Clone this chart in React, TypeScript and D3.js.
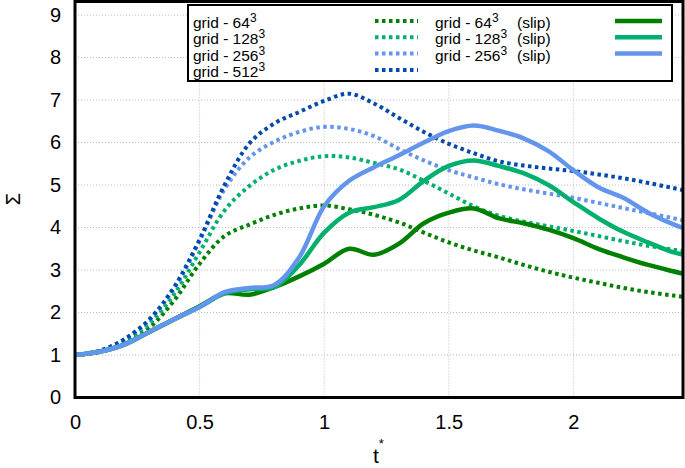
import React, { useRef, useEffect } from "react";
import { select, scaleLinear, line, curveCatmullRom, axisBottom, axisLeft } from "d3";

// sample times (t*)
const times = [0, 0.1, 0.2, 0.3, 0.4, 0.5, 0.6, 0.7, 0.8, 0.9, 1.0, 1.1, 1.2, 1.3, 1.4, 1.5, 1.6, 1.7, 1.8, 1.9, 2.0, 2.1, 2.2, 2.3, 2.4, 2.45];

// Sigma, no-slip runs (dotted)
const grid64 = [1.0, 1.07, 1.28, 1.65, 2.3, 3.15, 3.8, 4.07, 4.3, 4.45, 4.52, 4.43, 4.3, 4.12, 3.88, 3.65, 3.46, 3.3, 3.12, 2.96, 2.82, 2.7, 2.58, 2.48, 2.4, 2.36];
const grid128 = [1.0, 1.08, 1.32, 1.75, 2.45, 3.42, 4.4, 4.98, 5.36, 5.57, 5.68, 5.65, 5.52, 5.37, 5.1, 4.8, 4.5, 4.28, 4.14, 4.03, 3.92, 3.8, 3.68, 3.57, 3.48, 3.44];
const grid256 = [1.0, 1.1, 1.37, 1.83, 2.58, 3.68, 4.9, 5.65, 6.02, 6.25, 6.37, 6.32, 6.15, 5.85, 5.58, 5.35, 5.18, 5.02, 4.9, 4.8, 4.7, 4.58, 4.46, 4.34, 4.22, 4.16];
const grid512 = [1.0, 1.1, 1.38, 1.85, 2.62, 3.72, 5.0, 5.98, 6.45, 6.72, 6.98, 7.15, 6.92, 6.58, 6.25, 5.97, 5.75, 5.56, 5.46, 5.39, 5.33, 5.25, 5.16, 5.05, 4.93, 4.87];

// Sigma, slip runs (solid)
const slip64 = [1.0, 1.08, 1.25, 1.55, 1.85, 2.15, 2.45, 2.42, 2.6, 2.85, 3.15, 3.5, 3.36, 3.62, 4.1, 4.35, 4.45, 4.22, 4.1, 3.95, 3.75, 3.5, 3.3, 3.12, 2.97, 2.9];
const slip128 = [1.0, 1.08, 1.25, 1.55, 1.85, 2.13, 2.45, 2.55, 2.6, 3.12, 3.88, 4.35, 4.48, 4.65, 5.1, 5.45, 5.58, 5.45, 5.28, 5.0, 4.6, 4.22, 3.9, 3.65, 3.42, 3.35];
const slip256 = [1.0, 1.08, 1.25, 1.55, 1.85, 2.13, 2.48, 2.58, 2.65, 3.3, 4.5, 5.1, 5.42, 5.7, 6.0, 6.27, 6.4, 6.28, 6.1, 5.8, 5.35, 4.95, 4.7, 4.35, 4.08, 3.97];

const xTicks = [0, 0.5, 1, 1.5, 2];
const yTicks = [0, 1, 2, 3, 4, 5, 6, 7, 8, 9];

const gridLabels = ["64", "128", "256", "512"];
const slipLabels = ["64", "128", "256"];

const darkGreen = "#008000";
const midGreen = "#00b06c";
const lightBlue = "#6495ed";
const darkBlue = "#0049ad";

const font = "'Liberation Sans', Arial, Helvetica, sans-serif";

function App() {
  const svgRef = useRef(null);

  useEffect(() => {
    const svg = select(svgRef.current);
    svg.selectAll("*").remove();

    const left = 75, right = 683, top = 1.5, bottom = 397.5;

    const xScale = scaleLinear().domain([0, 2.44]).range([left, right]);
    const yScale = scaleLinear().domain([0, 9.32]).range([bottom, top]);

    svg.append("defs")
      .append("clipPath")
      .attr("id", "plotClip")
      .append("rect")
      .attr("x", left)
      .attr("y", top)
      .attr("width", right - left)
      .attr("height", bottom - top);

    // grid
    svg.append("g")
      .selectAll("line")
      .data(yTicks.slice(1))
      .join("line")
      .attr("x1", left)
      .attr("x2", right)
      .attr("y1", (d) => yScale(d))
      .attr("y2", (d) => yScale(d))
      .attr("stroke", "#bbb")
      .attr("stroke-width", 1)
      .attr("stroke-dasharray", "1,2");

    svg.append("g")
      .selectAll("line")
      .data(xTicks.slice(1))
      .join("line")
      .attr("x1", (d) => xScale(d))
      .attr("x2", (d) => xScale(d))
      .attr("y1", top)
      .attr("y2", bottom)
      .attr("stroke", "#bbb")
      .attr("stroke-width", 1)
      .attr("stroke-dasharray", "1,2");

    const series = [
      { data: grid64, color: darkGreen, dotted: true },
      { data: grid128, color: midGreen, dotted: true },
      { data: grid256, color: lightBlue, dotted: true },
      { data: grid512, color: darkBlue, dotted: true },
      { data: slip64, color: darkGreen, dotted: false },
      { data: slip128, color: midGreen, dotted: false },
      { data: slip256, color: lightBlue, dotted: false },
    ];

    const lineGen = line<number>()
      .x((d, i) => xScale(times[i]))
      .y((d) => yScale(d))
      .curve(curveCatmullRom.alpha(0.5));

    svg.append("g")
      .attr("clip-path", "url(#plotClip)")
      .selectAll("path")
      .data(series)
      .join("path")
      .attr("d", (s) => lineGen(s.data))
      .attr("fill", "none")
      .attr("stroke", (s) => s.color)
      .attr("stroke-width", (s) => (s.dotted ? 4 : 4.5))
      .attr("stroke-dasharray", (s) => (s.dotted ? "3.5,3.5" : null));

    // axes
    const xAxis = axisBottom(xScale)
      .tickValues(xTicks)
      .tickSize(0)
      .tickPadding(17)
      .tickFormat((d) => String(d));

    const gx = svg.append("g")
      .attr("transform", `translate(0, ${bottom})`)
      .call(xAxis);
    gx.select(".domain").remove();
    gx.selectAll("text")
      .attr("font-size", 20)
      .attr("font-family", font)
      .attr("fill", "#000");

    const yAxis = axisLeft(yScale)
      .tickValues(yTicks)
      .tickSize(0)
      .tickPadding(14)
      .tickFormat((d) => String(d));

    const gy = svg.append("g")
      .attr("transform", `translate(${left}, 0)`)
      .call(yAxis);
    gy.select(".domain").remove();
    gy.selectAll("text")
      .attr("font-size", 20)
      .attr("font-family", font)
      .attr("fill", "#000");

    // frame
    svg.append("rect")
      .attr("x", left)
      .attr("y", top)
      .attr("width", right - left)
      .attr("height", bottom - top)
      .attr("fill", "none")
      .attr("stroke", "#000")
      .attr("stroke-width", 3);

    // axis titles
    const xt = svg.append("text")
      .attr("x", 373)
      .attr("y", 463)
      .attr("font-size", 21)
      .attr("font-family", font);
    xt.append("tspan").text("t");
    xt.append("tspan").attr("font-size", 13).attr("dy", -15).text("*");

    svg.append("text")
      .attr("transform", "translate(20, 199) rotate(-90)")
      .attr("text-anchor", "middle")
      .attr("font-size", 20)
      .attr("font-family", font)
      .text("Σ");

    // legend
    const lg = svg.append("g");
    lg.append("rect")
      .attr("x", 188)
      .attr("y", 5)
      .attr("width", 484)
      .attr("height", 76)
      .attr("fill", "#fff")
      .attr("stroke", "#000")
      .attr("stroke-width", 2);

    const rowY = (i: number) => 28 + i * 16.3;

    const col1 = [
      { label: gridLabels[0], color: darkGreen },
      { label: gridLabels[1], color: midGreen },
      { label: gridLabels[2], color: lightBlue },
      { label: gridLabels[3], color: darkBlue },
    ];
    const col2 = [
      { label: slipLabels[0], color: darkGreen },
      { label: slipLabels[1], color: midGreen },
      { label: slipLabels[2], color: lightBlue },
    ];

    col1.forEach((d, i) => {
      const t = lg.append("text")
        .attr("x", 193)
        .attr("y", rowY(i))
        .attr("font-size", 15.5)
        .attr("font-family", font);
      t.append("tspan").text(`grid - ${d.label}`);
      t.append("tspan").attr("font-size", 12).attr("dy", -6).text("3");
      lg.append("line")
        .attr("x1", 375)
        .attr("x2", 418)
        .attr("y1", rowY(i) - 7)
        .attr("y2", rowY(i) - 7)
        .attr("stroke", d.color)
        .attr("stroke-width", 4)
        .attr("stroke-dasharray", "3.5,3.5");
    });

    col2.forEach((d, i) => {
      const t = lg.append("text")
        .attr("x", 435)
        .attr("y", rowY(i))
        .attr("font-size", 15.5)
        .attr("font-family", font);
      t.append("tspan").text(`grid - ${d.label}`);
      t.append("tspan").attr("font-size", 12).attr("dy", -6).text("3");
      lg.append("text")
        .attr("x", 517)
        .attr("y", rowY(i))
        .attr("font-size", 15.5)
        .attr("font-family", font)
        .text("(slip)");
      lg.append("line")
        .attr("x1", 615)
        .attr("x2", 662)
        .attr("y1", rowY(i) - 7)
        .attr("y2", rowY(i) - 7)
        .attr("stroke", d.color)
        .attr("stroke-width", 4.5);
    });
  }, []);

  return (
    <svg
      ref={svgRef}
      width={685}
      height={468}
      style={{ position: "absolute", left: 0, top: 0, background: "#fff" }}
    />
  );
}

export default App;
